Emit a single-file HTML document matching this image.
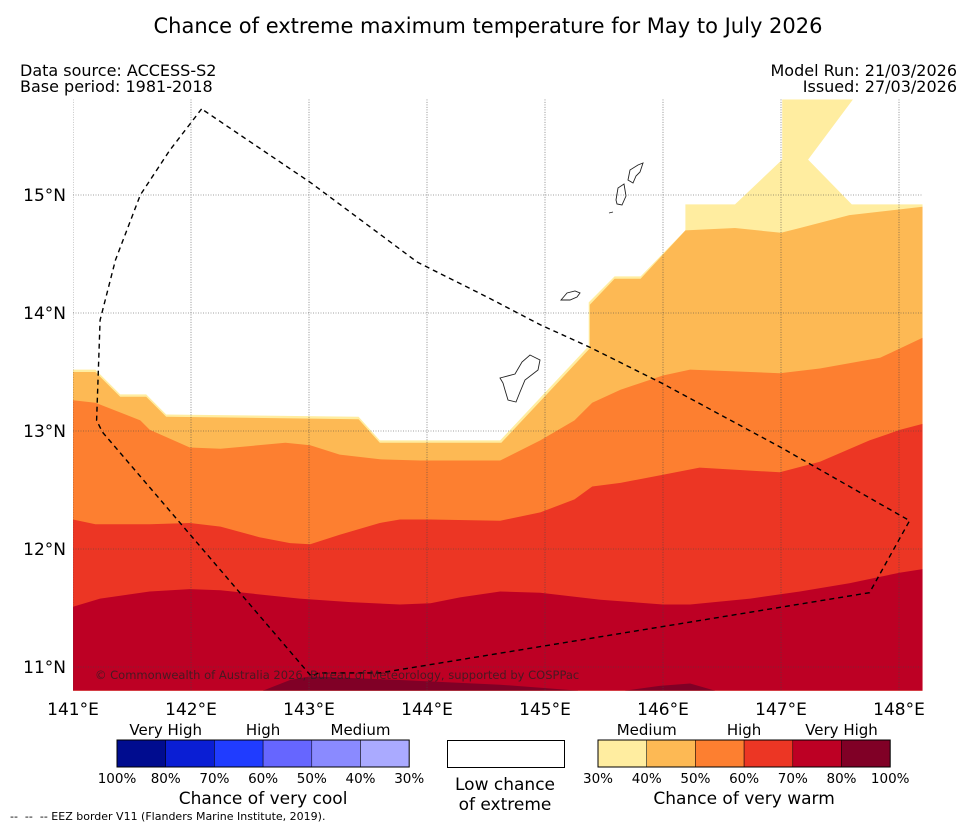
<!DOCTYPE html>
<html><head><meta charset="utf-8">
<style>
body{margin:0;background:#fff;}
svg{display:block;font-family:"DejaVu Sans","Liberation Sans",sans-serif;}
</style></head>
<body>
<svg id="chart" width="977" height="827" viewBox="0 0 977 827">
<text x="488" y="33" text-anchor="middle" font-size="21">Chance of extreme maximum temperature for May to July 2026</text>
<text x="20" y="76" font-size="16">Data source: ACCESS-S2</text>
<text x="20" y="92" font-size="16">Base period: 1981-2018</text>
<text x="957" y="76" font-size="16" text-anchor="end">Model Run: 21/03/2026</text>
<text x="957" y="92" font-size="16" text-anchor="end">Issued: 27/03/2026</text>
<g id="map"></g>
<g id="legend"></g>
<text x="10" y="820" font-size="11" xml:space="preserve">--  --  -- EEZ border V11 (Flanders Marine Institute, 2019).</text>
</svg>
<script>
// Axis ranges
const lonTicks = [141,142,143,144,145,146,147,148];
const latTicks = [11,12,13,14,15];
const lonTickLabels = ["141°E","142°E","143°E","144°E","145°E","146°E","147°E","148°E"];
const latTickLabels = ["11°N","12°N","13°N","14°N","15°N"];
// Contour boundaries (northern edge of region >= level), as lon/lat pairs
const b30Lon = [141.00,141.19,141.40,141.62,141.79,143.42,143.60,144.62,145.37,145.37,145.59,145.81,146.19,146.19,146.61,147.01,147.01,147.61,147.23,147.60,148.20];
const b30Lat = [13.52,13.52,13.31,13.31,13.14,13.12,12.92,12.92,13.72,14.09,14.31,14.31,14.70,14.92,14.92,15.30,15.81,15.81,15.30,14.92,14.92];
const b40Lon = [141.00,141.19,141.40,141.62,141.79,143.42,143.60,144.63,145.38,145.38,145.59,145.81,146.19,146.61,147.00,147.16,147.58,148.20];
const b40Lat = [13.50,13.50,13.29,13.29,13.12,13.10,12.90,12.90,13.70,14.07,14.29,14.29,14.70,14.72,14.68,14.72,14.83,14.90];
const b50Lon = [141.00,141.19,141.57,141.65,141.99,142.25,142.80,143.01,143.26,143.60,143.94,144.62,144.96,145.25,145.40,145.64,146.00,146.23,146.99,147.33,147.84,148.20];
const b50Lat = [13.26,13.24,13.09,13.01,12.86,12.85,12.90,12.88,12.80,12.76,12.75,12.75,12.92,13.09,13.24,13.35,13.47,13.52,13.49,13.53,13.62,13.79];
const b60Lon = [141.00,141.19,141.65,141.99,142.25,142.58,142.84,143.01,143.26,143.60,143.77,144.03,144.62,144.96,145.25,145.40,145.64,146.00,146.31,146.99,147.33,147.75,148.01,148.20];
const b60Lat = [12.25,12.21,12.21,12.22,12.19,12.10,12.05,12.04,12.12,12.22,12.25,12.25,12.24,12.31,12.42,12.53,12.56,12.63,12.69,12.65,12.74,12.92,13.01,13.06];
const b70Lon = [141.00,141.23,141.65,141.99,142.25,142.92,143.35,143.77,144.03,144.28,144.62,144.96,145.47,146.00,146.23,146.74,147.16,147.58,148.01,148.20];
const b70Lat = [11.51,11.58,11.64,11.66,11.65,11.58,11.55,11.53,11.54,11.59,11.64,11.63,11.57,11.53,11.53,11.58,11.64,11.71,11.80,11.83];
const b80aLon = [142.61,142.84,143.01,143.77,144.62,145.28];
const b80aLat = [10.80,10.89,10.92,10.89,10.85,10.80];
const b80bLon = [145.68,145.97,146.23,146.44];
const b80bLat = [10.80,10.84,10.86,10.80];
// EEZ border
const eezLon = [142.09,141.82,141.57,141.36,141.23,141.20,141.25,143.02,143.08,143.60,147.75,148.09,147.00,146.00,145.38,144.96,144.52,143.92,143.02,142.09];
const eezLat = [15.73,15.38,15.00,14.45,13.94,13.09,12.99,10.92,10.95,10.95,11.63,12.24,12.86,13.40,13.71,13.90,14.13,14.43,15.10,15.73];

const LON0=141, LON1=148.2, LAT0=10.8, LAT1=15.81;
function xS(lon){return 73+(lon-141)*118;}
function yS(lat){return 195+(15-lat)*118;}
const NS='http://www.w3.org/2000/svg';
const map=document.getElementById('map');
function mk(tag,attrs,parent){const e=document.createElementNS(NS,tag);for(const k in attrs)e.setAttribute(k,attrs[k]);(parent||map).appendChild(e);return e;}

const defs=mk('defs',{});
const cp=mk('clipPath',{id:'clip'},defs);
mk('rect',{x:xS(LON0),y:yS(LAT1),width:xS(LON1)-xS(LON0),height:yS(LAT0)-yS(LAT1)},cp);
const g=mk('g',{'clip-path':'url(#clip)'});

function band(lons,lats,color,name){
  let d='M'+lons.map((l,i)=>xS(l).toFixed(1)+','+yS(lats[i]).toFixed(1)).join(' L');
  d+=' L'+xS(lons[lons.length-1])+','+(yS(LAT0)+2)+' L'+xS(lons[0])+','+(yS(LAT0)+2)+'Z';
  const p=mk('path',{d:d,fill:color},g);
  
  
}
band(b30Lon,b30Lat,'#ffeda0','band-30pct');
band(b40Lon,b40Lat,'#fdb954','band-40pct');
band(b50Lon,b50Lat,'#fd7f30','band-50pct');
band(b60Lon,b60Lat,'#ec3624','band-60pct');
band(b70Lon,b70Lat,'#bd0024','band-70pct');
band(b80aLon,b80aLat,'#800026','band-80pct-a');
band(b80bLon,b80bLat,'#800026','band-80pct-b');

// gridlines
lonTicks.forEach((l,i)=>{
  const ln=mk('line',{x1:xS(l),x2:xS(l),y1:yS(LAT1),y2:yS(LAT0),stroke:'#444','stroke-width':0.6,'stroke-dasharray':'1,1.5'},g);
  
  
  const t=mk('text',{x:xS(l),y:715,'text-anchor':'middle','font-size':17});
  t.textContent=lonTickLabels[i];
  
  
});
latTicks.forEach((l,i)=>{
  const ln=mk('line',{x1:xS(LON0),x2:xS(LON1),y1:yS(l),y2:yS(l),stroke:'#444','stroke-width':0.6,'stroke-dasharray':'1,1.5'},g);
  
  
  const t=mk('text',{x:66,y:yS(l)+6,'text-anchor':'end','font-size':17});
  t.textContent=latTickLabels[i];
  
  
});

// islands
const isl=[
 'M500,378 L515,374 L522,362 L530,355 L540,360 L538,370 L525,380 L520,392 L516,402 L508,400 L505,390 L503,383 Z',
 'M561,300 L567,293 L575,291 L580,293 L577,297 L570,300 Z',
 'M616,200 L618,188 L624,184 L626,196 L622,205 L617,204 Z',
 'M628,180 L630,170 L638,165 L643,163 L640,172 L636,176 L633,183 Z',
 'M609,213 L613,212'
];
isl.forEach(d=>{
  const p=mk('path',{d:d,fill:'none',stroke:'#222','stroke-width':0.9},g);
  
  
});

// EEZ
const eez=mk('path',{d:'M'+eezLon.map((l,i)=>xS(l).toFixed(1)+','+yS(eezLat[i]).toFixed(1)).join(' L'),fill:'none',stroke:'#000','stroke-width':1.4,'stroke-dasharray':'5,4'},g);



const cr=mk('text',{x:95,y:679,'font-size':11.5,fill:'#222','fill-opacity':0.75},g);
cr.textContent='© Commonwealth of Australia 2026, Bureau of Meteorology, supported by COSPPac';



// legend
const coolColors=['#000c8f','#0a1ed4','#203cff','#6666ff','#8a8aff','#aaaaff'];
const warmColors=['#ffeda0','#fdb954','#fd7f30','#ec3624','#bd0024','#800026'];
const coolTicks=['100%','80%','70%','60%','50%','40%','30%'];
const warmTicks=['30%','40%','50%','60%','70%','80%','100%'];
const leg=document.getElementById('legend');
function lt(x,y,s,txt,name){const t=mk('text',{x:x,y:y,'text-anchor':'middle','font-size':s},leg);t.textContent=txt;}
function bar(x0,colors,ticks,labels,title,nm){
  const w=48.7;
  colors.forEach((c,i)=>{
    const r=mk('rect',{x:x0+i*w,y:740,width:w,height:27,fill:c,stroke:'#000','stroke-width':0.5},leg);
    
    
  });
  mk('rect',{x:x0,y:740,width:w*6,height:27,fill:'none',stroke:'#000','stroke-width':1},leg);
  ticks.forEach((t,i)=>lt(x0+i*w,783,13.5,t,nm+'-tick'));
  labels.forEach((t,i)=>lt(x0+w*(2*i+1),735,15,t,nm+'-category'));
  lt(x0+w*3,804,17,title,nm+'-title');
}
bar(117,coolColors,coolTicks,['Very High','High','Medium'],'Chance of very cool','cool-colorbar');
bar(598,warmColors,warmTicks,['Medium','High','Very High'],'Chance of very warm','warm-colorbar');
const lb=mk('rect',{x:447.5,y:740.5,width:117,height:27,fill:'#fff',stroke:'#000','stroke-width':1},leg);


lt(505,790,17,'Low chance','low-chance-label');
lt(505,810,17,'of extreme','low-chance-label-line2');
</script>
</body></html>
